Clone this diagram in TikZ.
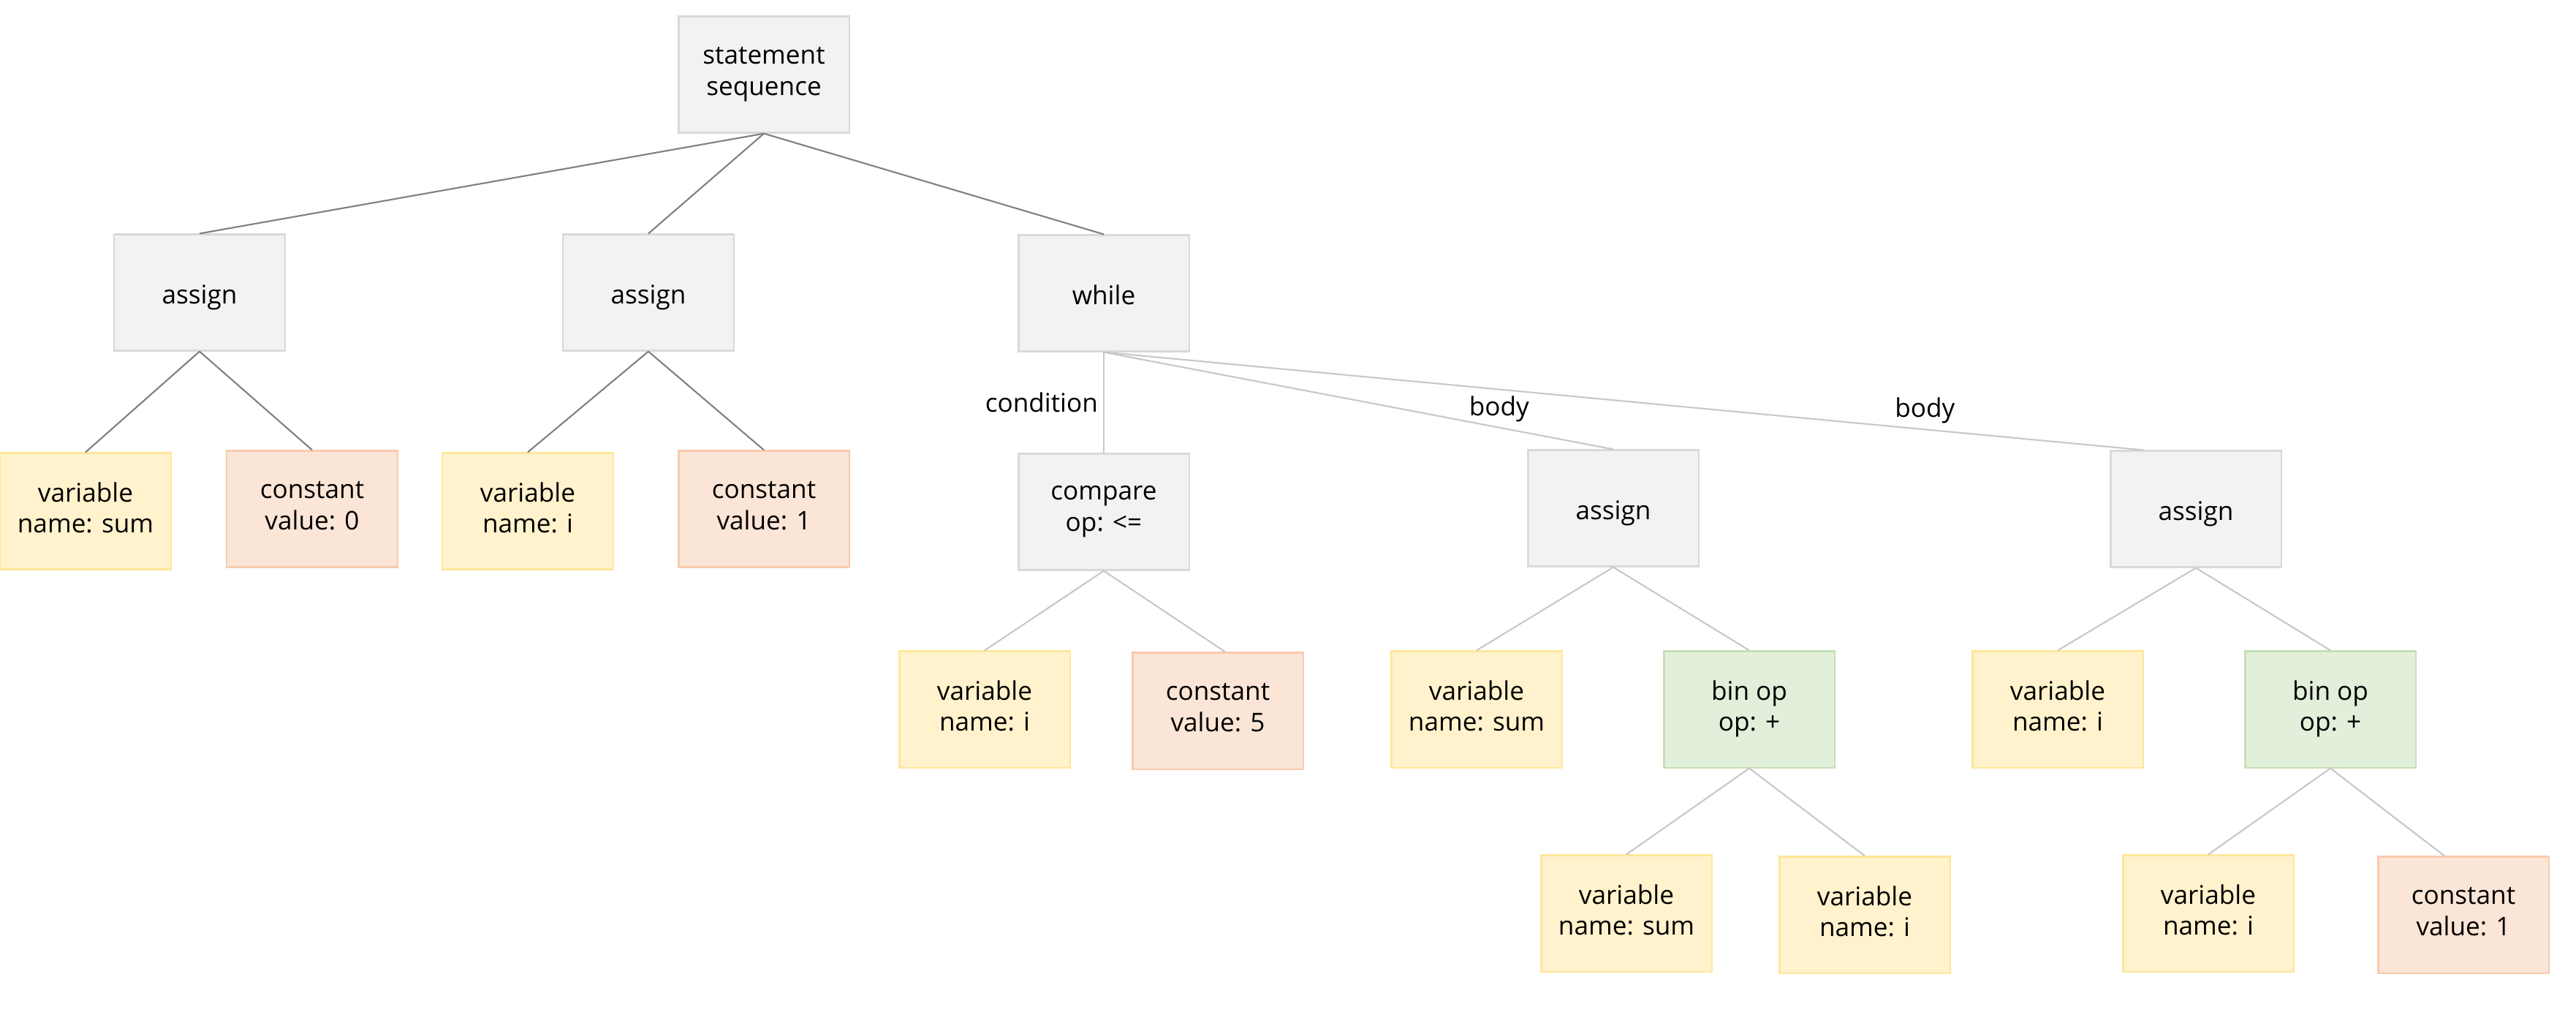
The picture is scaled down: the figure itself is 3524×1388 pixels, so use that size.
\documentclass[tikz,border=0pt]{standalone}
\usepackage{fontspec}
\setmainfont{Open Sans}
\usetikzlibrary{calc}

\definecolor{grayfill}{HTML}{F2F2F2}
\definecolor{graydraw}{HTML}{D9D9D9}
\definecolor{varfill}{HTML}{FFF2CC}
\definecolor{vardraw}{HTML}{FFE699}
\definecolor{constfill}{HTML}{FBE5D6}
\definecolor{constdraw}{HTML}{F8CBAD}
\definecolor{opfill}{HTML}{E2EFDA}
\definecolor{opdraw}{HTML}{C5E0B4}
\definecolor{darkedge}{HTML}{808080}
\definecolor{lightedge}{HTML}{C8C8C8}

\begin{document}
\begin{tikzpicture}[x=0.01cm, y=-0.01cm,
  box/.style={draw, line width=0.6pt, minimum width=2.33cm, minimum height=1.59cm,
    align=center, font=\fontsize{10pt}{12pt}\selectfont,
    execute at begin node={\rule{0pt}{11.4pt}},
    execute at end node={\rule[-2.6pt]{0pt}{2.6pt}}},
  stmt/.style={box, fill=grayfill, draw=graydraw},
  var/.style={box, fill=varfill, draw=vardraw},
  const/.style={box, fill=constfill, draw=constdraw},
  binop/.style={box, fill=opfill, draw=opdraw},
  top/.style={draw=darkedge, line width=0.6pt},
  sub/.style={draw=lightedge, line width=0.6pt},
  lbl/.style={font=\fontsize{10pt}{12pt}\selectfont, inner sep=2pt}]
  \useasboundingbox (0,0) rectangle (3524,1388);

  % Root
  \node[stmt] (seq) at (1045,102) {statement\\sequence};

  % Statements
  \node[stmt] (asgA) at (273,400) {assign};
  \node[stmt] (asgB) at (887,400) {assign};
  \node[stmt] (wh) at (1510,401) {while};

  % Assign operands
  \node[var] (vsum) at (117,699) {variable\\name: sum};
  \node[const] (czero) at (427,696) {constant\\value: 0};
  \node[var] (vi) at (722,699) {variable\\name: i};
  \node[const] (cone) at (1045,696) {constant\\value: 1};

  % While parts
  \node[stmt] (cmp) at (1510,700) {compare\\op: <=};
  \node[stmt] (asgC) at (2207,695) {assign};
  \node[stmt] (asgD) at (3004,696) {assign};

  % Level 4
  \node[var] (cmpvar) at (1347,970) {variable\\name: i};
  \node[const] (cmpconst) at (1666,972) {constant\\value: 5};
  \node[var] (cvar) at (2020,970) {variable\\name: sum};
  \node[binop] (cop) at (2393,970) {bin op\\op: +};
  \node[var] (dvar) at (2815,970) {variable\\name: i};
  \node[binop] (dop) at (3188,970) {bin op\\op: +};

  % Level 5
  \node[var] (copl) at (2225,1249) {variable\\name: sum};
  \node[var] (copr) at (2551,1251) {variable\\name: i};
  \node[var] (dopl) at (3021,1249) {variable\\name: i};
  \node[const] (dopr) at (3370,1251) {constant\\value: 1};

  % Edges
  \draw[top] (seq.south) -- (asgA.north);
  \draw[top] (seq.south) -- (asgB.north);
  \draw[top] (seq.south) -- (wh.north);
  \draw[top] (asgA.south) -- (vsum.north);
  \draw[top] (asgA.south) -- (czero.north);
  \draw[top] (asgB.south) -- (vi.north);
  \draw[top] (asgB.south) -- (cone.north);

  \draw[sub] (wh.south) -- (cmp.north) node[lbl, midway, left] {condition};
  \draw[sub] (wh.south) -- (asgC.north) node[lbl, pos=0.776, above] {body};
  \draw[sub] (wh.south) -- ([xshift=-0.72cm]asgD.north) node[lbl, pos=0.79, above] {body};

  \draw[sub] (cmp.south) -- (cmpvar.north);
  \draw[sub] (cmp.south) -- ([xshift=0.1cm]cmpconst.north);
  \draw[sub] (asgC.south) -- (cvar.north);
  \draw[sub] (asgC.south) -- (cop.north);
  \draw[sub] (asgD.south) -- (dvar.north);
  \draw[sub] (asgD.south) -- (dop.north);
  \draw[sub] (cop.south) -- (copl.north);
  \draw[sub] (cop.south) -- (copr.north);
  \draw[sub] (dop.south) -- (dopl.north);
  \draw[sub] (dop.south) -- ([xshift=-0.26cm]dopr.north);
\end{tikzpicture}
\end{document}
